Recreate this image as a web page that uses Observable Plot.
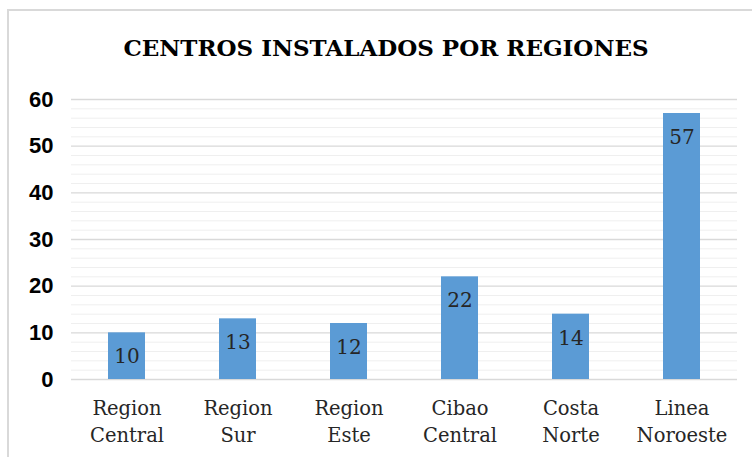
<!DOCTYPE html>
<html>
<head>
<meta charset="utf-8">
<script src="https://cdn.jsdelivr.net/npm/d3@7"></script>
<script src="https://cdn.jsdelivr.net/npm/@observablehq/plot@0.6"></script>
<style>
  html, body { margin: 0; padding: 0; background: #fff; }
  #wrap { position: relative; width: 752px; height: 457px; overflow: hidden; background: #fff; }
  #frame { position: absolute; left: 7px; top: 9px; width: 800px; height: 500px;
           border-left: 2px solid #d9d9d9; border-top: 2px solid #d9d9d9; box-sizing: border-box; }
  #title { position: absolute; left: 0; top: 34px; width: 772px; text-align: center;
           font-family: "DejaVu Serif", serif; font-weight: bold; font-size: 23px; color: #000;
           line-height: 28px; }
  #chart { position: absolute; left: 0; top: 0; }
</style>
</head>
<body>
<div id="wrap">
  <div id="frame"></div>
  <div id="chart"></div>
  <div id="title">CENTROS INSTALADOS POR REGIONES</div>
</div>
<script>
const categories = ["Region\nCentral", "Region\nSur", "Region\nEste", "Cibao\nCentral", "Costa\nNorte", "Linea\nNoroeste"];
const values = [10, 13, 12, 22, 14, 57];
const majorTicks = [0, 10, 20, 30, 40, 50, 60];
const minorTicks = d3.range(0, 61, 2).filter(v => v % 10 !== 0);

const data = categories.map((c, i) => ({category: c, value: values[i]}));

const plot = Plot.plot({
  width: 752,
  height: 457,
  marginLeft: 71,
  marginRight: 15,
  marginTop: 99,
  marginBottom: 78,
  style: {background: "transparent"},
  x: {domain: categories, paddingInner: 0.667, paddingOuter: 0.333, label: null},
  y: {domain: [0, 60], label: null},
  marks: [
    Plot.ruleY(minorTicks, {stroke: "#efefef", strokeWidth: 1}),
    Plot.ruleY(majorTicks, {stroke: "#d9d9d9", strokeWidth: 1.3}),
    Plot.barY(data, {x: "category", y: "value", fill: "#5b9bd5", insetLeft: 0, insetRight: 0}),
    Plot.text(data, {x: "category", y: "value", text: d => String(d.value), dy: 24,
      fontFamily: "DejaVu Serif", fontSize: 20, fill: "#262626"}),
    Plot.axisY({ticks: majorTicks, tickSize: 0, tickPadding: 18, label: null,
      fontFamily: "Liberation Sans", fontWeight: "bold", fontSize: 22, fill: "#000"}),
    Plot.axisX({tickSize: 0, tickPadding: 16, label: null, lineHeight: 1.4,
      fontFamily: "DejaVu Serif", fontSize: 19.5, fill: "#262626"})
  ]
});
document.getElementById("chart").appendChild(plot);
</script>
</body>
</html>
